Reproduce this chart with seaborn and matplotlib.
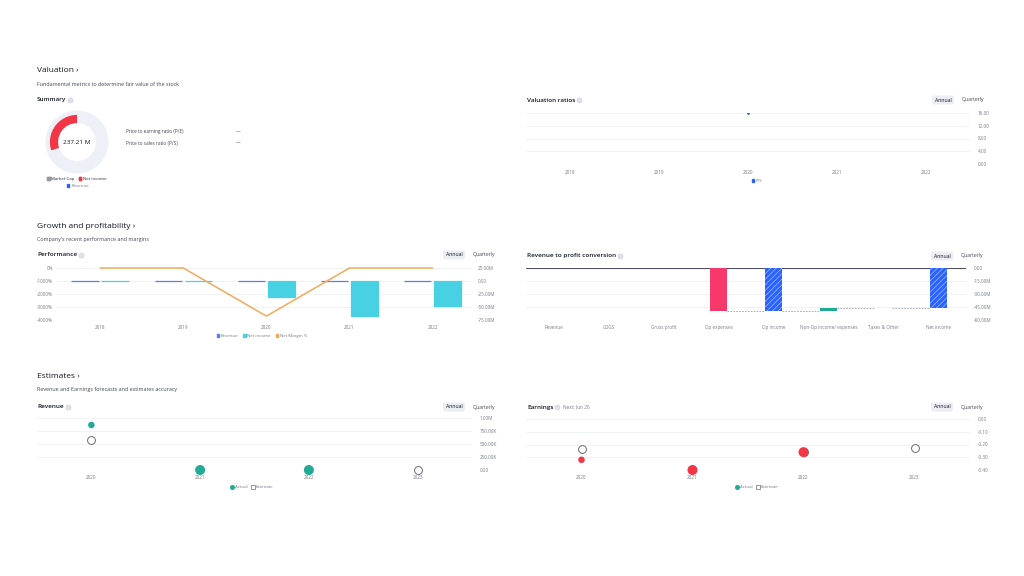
import numpy as np
import pandas as pd
import matplotlib
matplotlib.use("Agg")
import matplotlib.pyplot as plt
import seaborn as sns
from matplotlib.lines import Line2D
from matplotlib.patches import Patch, FancyBboxPatch

# ---------------- data ----------------
summary_center_label = "237.21 M"
summary_net_income_share = 0.30
summary_legend_labels = ["Market Cap", "Net income", "Revenue"]
ratio_names = ["Price to earning ratio (P/E)", "Price to sales ratio (P/S)"]
ratio_values = ["—", "—"]

val_years = ["2018", "2019", "2020", "2021", "2022"]
ps_values = [np.nan, np.nan, 15.9, np.nan, np.nan]
val_ticks = [0, 4, 8, 12, 16]
val_tick_labels = ["0.00", "4.00", "8.00", "12.00", "16.00"]

perf_years = ["2018", "2019", "2020", "2021", "2022"]
perf_revenue = [0.0, 0.0, 0.84, 0.0, 0.0]          # millions
perf_net_income = [0.0, 0.0, -30.8, -67.0, -48.0]  # millions
perf_net_margin = [0, 0, -3700, 0, 0]              # percent
perf_margin_ticks = [0, -1000, -2000, -3000, -4000]
perf_margin_labels = ["0%", "-1000%", "-2000%", "-3000%", "-4000%"]
perf_value_ticks = [25, 0, -25, -50, -75]
perf_value_labels = ["25.00M", "0.00", "-25.00M", "-50.00M", "-75.00M"]

conv_categories = ["Revenue", "COGS", "Gross profit", "Op expenses", "Op income",
                   "Non-Op income/ expenses", "Taxes & Other", "Net income"]
conv_values = [0.84, 0.0, 0.84, -50.4, -49.56, 3.06, 0.0, -46.5]   # millions
conv_is_total = [True, False, True, False, True, False, False, True]
conv_ticks = [0, -15, -30, -45, -60]
conv_tick_labels = ["0.00", "-15.00M", "-30.00M", "-45.00M", "-60.00M"]

est_years = ["2020", "2021", "2022", "2023"]
rev_actual = [865000, 0, 0, np.nan]
rev_estimate = [577000, np.nan, np.nan, 0]
rev_ticks = [0, 250000, 500000, 750000, 1000000]
rev_tick_labels = ["0.00", "250.00K", "500.00K", "750.00K", "1.00M"]

eps_actual = [-0.32, -0.40, -0.26, np.nan]
eps_estimate = [-0.237, np.nan, -0.255, -0.23]
eps_ticks = [0, -0.1, -0.2, -0.3, -0.4]
eps_tick_labels = ["0.00", "-0.10", "-0.20", "-0.30", "-0.40"]

# ---------------- style ----------------
sns.set_theme(style="white")
plt.rcParams["font.family"] = ["Open Sans", "DejaVu Sans"]
plt.rcParams["hatch.linewidth"] = 0.6

W, H = 1024, 576
fig = plt.figure(figsize=(W / 100, H / 100), dpi=100)
fig.patch.set_facecolor("white")

DARK = "#131722"
MID = "#434651"
GRAY = "#787b86"
GRID = "#eef0f3"
BLUE = "#2962ff"
REVBLUE = "#5b7fe6"
CYAN = "#48d1e3"
ORANGE = "#f3a95a"
PINK = "#f7386a"
GREEN = "#22ab94"
RED = "#f23645"
TICK = 3.3


def fx(x):
    return x / W


def fy(y):
    return 1 - y / H


def px_axes(x0, y0, x1, y1):
    return fig.add_axes([fx(x0), fy(y1), fx(x1 - x0), (y1 - y0) / H])


def text(x, y, s, size=4.2, color=MID, weight="normal", ha="left"):
    fig.text(fx(x), fy(y), s, fontsize=size, color=color, weight=weight,
             ha=ha, va="center")


def info(x, y):
    fig.add_artist(Line2D([fx(x)], [fy(y)], marker="o", ms=3.6, mfc="#e0e3eb",
                          mec="#c9ccd4", mew=0.4, transform=fig.transFigure))


def buttons(x, y):
    fig.add_artist(FancyBboxPatch((fx(x - 11), fy(y + 4.5)), fx(22), 9 / H,
                                  boxstyle="round,pad=0,rounding_size=0.002",
                                  transform=fig.transFigure, fc="#eceef4", ec="none"))
    text(x, y, "Annual", size=3.7, color=DARK, ha="center")
    text(x + 30, y, "Quarterly", size=3.7, color=MID, ha="center")


def style_axes(ax, side="right", pad=5.5):
    for sp in ax.spines.values():
        sp.set_visible(False)
    ax.set_facecolor("none")
    ax.tick_params(length=0, labelsize=TICK, labelcolor=GRAY, pad=pad)
    if side == "right":
        ax.yaxis.tick_right()
    else:
        ax.yaxis.tick_left()
    ax.set_xlabel("")
    ax.set_ylabel("")


# ---------------- headers ----------------
text(37, 71, "Valuation ›", size=6, color=DARK)
text(37, 84, "Fundamental metrics to determine fair value of the stock", size=3.9)
text(37, 100, "Summary", size=4.6, color=DARK, weight="semibold")
info(70, 100)
text(527, 100, "Valuation ratios", size=4.6, color=DARK, weight="semibold")
info(579, 100)
buttons(943, 100)

text(37, 226, "Growth and profitability ›", size=6, color=DARK)
text(37, 239, "Company's recent performance and margins", size=3.9)
text(37, 255, "Performance", size=4.6, color=DARK, weight="semibold")
info(81, 255)
buttons(454, 255)
text(527, 256, "Revenue to profit conversion", size=4.6, color=DARK, weight="semibold")
info(620, 256)
buttons(942, 256)

text(37, 377, "Estimates ›", size=6, color=DARK)
text(37, 390, "Revenue and Earnings forecasts and estimates accuracy", size=3.9)
text(37, 407, "Revenue", size=4.6, color=DARK, weight="semibold")
info(68, 407)
buttons(454, 407)
text(527, 407, "Earnings", size=4.6, color=DARK, weight="semibold")
info(557, 407)
text(563, 407, "Next: Jun 26", size=3.4, color=GRAY)
buttons(942, 407)

# ---------------- summary donut ----------------
axd = px_axes(45.5, 110.5, 108.5, 173.5)
axd.pie([1], radius=1.0, colors=["#edf0f7"],
        wedgeprops=dict(width=0.40, edgecolor="none"))
axd.pie([summary_net_income_share, 1 - summary_net_income_share], radius=0.86,
        startangle=90, counterclock=True, colors=[RED, "none"],
        wedgeprops=dict(width=0.26, edgecolor="none"))
axd.set_xlim(-1, 1)
axd.set_ylim(-1, 1)
axd.set_aspect("equal")
axd.axis("off")
axd.text(0, 0, summary_center_label, ha="center", va="center", fontsize=4.6, color=DARK)

leg = fig.legend(handles=[Patch(color="#9598a1"), Patch(color=RED)],
                 labels=summary_legend_labels[:2], loc="center",
                 bbox_to_anchor=(fx(77), fy(179)), ncol=2, frameon=False,
                 fontsize=3.2, handlelength=0.55, handleheight=0.55,
                 handletextpad=0.4, columnspacing=1.0, labelcolor=GRAY)
fig.legend(handles=[Patch(color=BLUE)], labels=summary_legend_labels[2:],
           loc="center", bbox_to_anchor=(fx(78), fy(186)), frameon=False,
           fontsize=3.2, handlelength=0.55, handleheight=0.55,
           handletextpad=0.4, labelcolor=GRAY)
fig.add_artist(leg)

for i, (n, v) in enumerate(zip(ratio_names, ratio_values)):
    text(126, 132 + 11 * i, n, size=3.4)
    text(236, 132 + 11 * i, v, size=3.4)

# ---------------- valuation ratios ----------------
axv = px_axes(526, 113, 970, 164)
dfv = pd.DataFrame({"x": np.arange(len(val_years)), "ps": ps_values})
sns.scatterplot(data=dfv, x="x", y="ps", ax=axv, color=BLUE, s=4, marker="o",
                linewidth=0, legend=False)
axv.set_xlim(-0.5, len(val_years) - 0.5)
axv.set_ylim(0, 16)
axv.set_xticks(np.arange(len(val_years)), val_years)
axv.set_yticks(val_ticks, val_tick_labels)
axv.yaxis.grid(True, color=GRID, lw=0.6)
style_axes(axv)
axv.tick_params(axis="x", pad=4)
fig.legend(handles=[Patch(color=BLUE)], labels=["P/S"], loc="center",
           bbox_to_anchor=(fx(757), fy(181)), frameon=False, fontsize=3.2,
           handlelength=0.55, handleheight=0.55, handletextpad=0.4, labelcolor=GRAY)

# ---------------- performance ----------------
axp = px_axes(57, 268, 470, 320)
axm = axp.twinx()
dfp = pd.DataFrame({
    "year": perf_years * 2,
    "value": perf_revenue + perf_net_income,
    "series": ["Revenue"] * len(perf_years) + ["Net income"] * len(perf_years),
})
sns.barplot(data=dfp, x="year", y="value", hue="series", order=perf_years,
            palette={"Revenue": REVBLUE, "Net income": CYAN}, width=0.72,
            gap=0.08, ax=axp, legend=False, linewidth=0.9, saturation=1)
for p in axp.patches:
    p.set_edgecolor(p.get_facecolor())
axp.set_xlim(-0.52, 4.45)
axp.set_ylim(-75, 25)
axp.set_yticks(perf_value_ticks, perf_value_labels)
axp.yaxis.grid(True, color=GRID, lw=0.6)
axp.set_axisbelow(True)
style_axes(axp, side="right")
axp.tick_params(axis="x", pad=3.5)

dfm = pd.DataFrame({"x": np.arange(len(perf_years)), "m": perf_net_margin})
sns.lineplot(data=dfm, x="x", y="m", ax=axm, color=ORANGE, lw=1.1)
axm.set_ylim(-4000, 0)
axm.set_yticks(perf_margin_ticks, perf_margin_labels)
style_axes(axm, side="left", pad=3)
axm.tick_params(axis="x", labelbottom=False)
axp.yaxis.tick_right()
axp.yaxis.set_label_position("right")
for ln in axm.lines:
    ln.set_clip_on(False)

fig.legend(handles=[Patch(color=REVBLUE), Patch(color=CYAN), Patch(color=ORANGE)],
           labels=["Revenue", "Net income", "Net Margin %"], loc="center",
           bbox_to_anchor=(fx(262), fy(336)), ncol=3, frameon=False, fontsize=3.2,
           handlelength=0.55, handleheight=0.55, handletextpad=0.4,
           columnspacing=1.0, labelcolor=GRAY)

# ---------------- revenue to profit conversion ----------------
axc = px_axes(526, 268, 966, 320)
bottoms, heights, colors, hatches, running_after = [], [], [], [], []
running = 0.0
for v, tot in zip(conv_values, conv_is_total):
    if tot:
        bottoms.append(0.0)
        heights.append(v)
        colors.append(BLUE)
        hatches.append("//////")
        running = v
    else:
        bottoms.append(running)
        heights.append(v)
        colors.append(GREEN if v > 0 else PINK)
        hatches.append("")
        running = running + v
    running_after.append(running)
xs = np.arange(len(conv_categories))
bw = 0.3
bars = axc.bar(xs, heights, bottom=bottoms, width=bw, color=colors, linewidth=0,
               zorder=3)
for b, h in zip(bars, hatches):
    if h:
        b.set_hatch(h)
        b.set_edgecolor("#8fb0ff")
        b.set_linewidth(0)
for i in range(len(xs) - 1):
    axc.plot([xs[i] + bw / 2, xs[i + 1] - bw / 2], [running_after[i]] * 2,
             ls=(0, (2, 1.5)), lw=0.6, color="#9aa0ae", zorder=2)
axc.axhline(0, color="#50535e", lw=0.8, zorder=2.5)
axc.set_xlim(-0.5, len(xs) - 0.5)
axc.set_ylim(-60, 0)
axc.set_xticks(xs, conv_categories)
axc.set_yticks(conv_ticks, conv_tick_labels)
axc.yaxis.grid(True, color=GRID, lw=0.6)
axc.set_axisbelow(True)
style_axes(axc)
axc.tick_params(axis="x", pad=3.5)


# ---------------- estimates ----------------
def est_panel(ax, actual, estimate, act_color, act_sizes, ticks, labels, ylim):
    xpos = np.arange(len(est_years))
    dfe = pd.DataFrame({"x": xpos, "est": estimate, "act": actual,
                        "s": act_sizes})
    sns.scatterplot(data=dfe, x="x", y="est", ax=ax, s=32, marker="o",
                    facecolor="white", edgecolor="#6a6d78", linewidth=0.7,
                    legend=False, clip_on=False, zorder=3)
    sns.scatterplot(data=dfe, x="x", y="act", ax=ax, size="s", sizes=(22, 52),
                    color=act_color, linewidth=0, legend=False, clip_on=False,
                    zorder=4)
    ax.set_xlim(-0.5, len(est_years) - 0.5)
    ax.set_ylim(*ylim)
    ax.set_xticks(xpos, est_years)
    ax.set_yticks(ticks, labels)
    ax.yaxis.grid(True, color=GRID, lw=0.6)
    ax.set_axisbelow(True)
    style_axes(ax)
    ax.tick_params(axis="x", pad=3.5)


axr = px_axes(37, 418, 472, 470)
est_panel(axr, rev_actual, rev_estimate, GREEN, [1, 2, 2, 2], rev_ticks,
          rev_tick_labels, (0, 1000000))

axe = px_axes(526, 419, 970, 470)
est_panel(axe, eps_actual, eps_estimate, RED, [1, 2, 2, 2], eps_ticks,
          eps_tick_labels, (-0.4, 0))

for cx in (252, 757):
    fig.legend(handles=[Line2D([], [], marker="o", ls="", ms=2.6, color=GREEN),
                        Line2D([], [], marker="s", ls="", ms=3.0, mfc="white",
                               mec="#6a6d78", mew=0.5)],
               labels=["Actual", "Estimate"], loc="center",
               bbox_to_anchor=(fx(cx), fy(487)), ncol=2, frameon=False,
               fontsize=3.2, handlelength=0.6, handletextpad=0.3,
               columnspacing=0.8, labelcolor=GRAY)

fig.savefig("out.png", dpi=100, facecolor="white")
